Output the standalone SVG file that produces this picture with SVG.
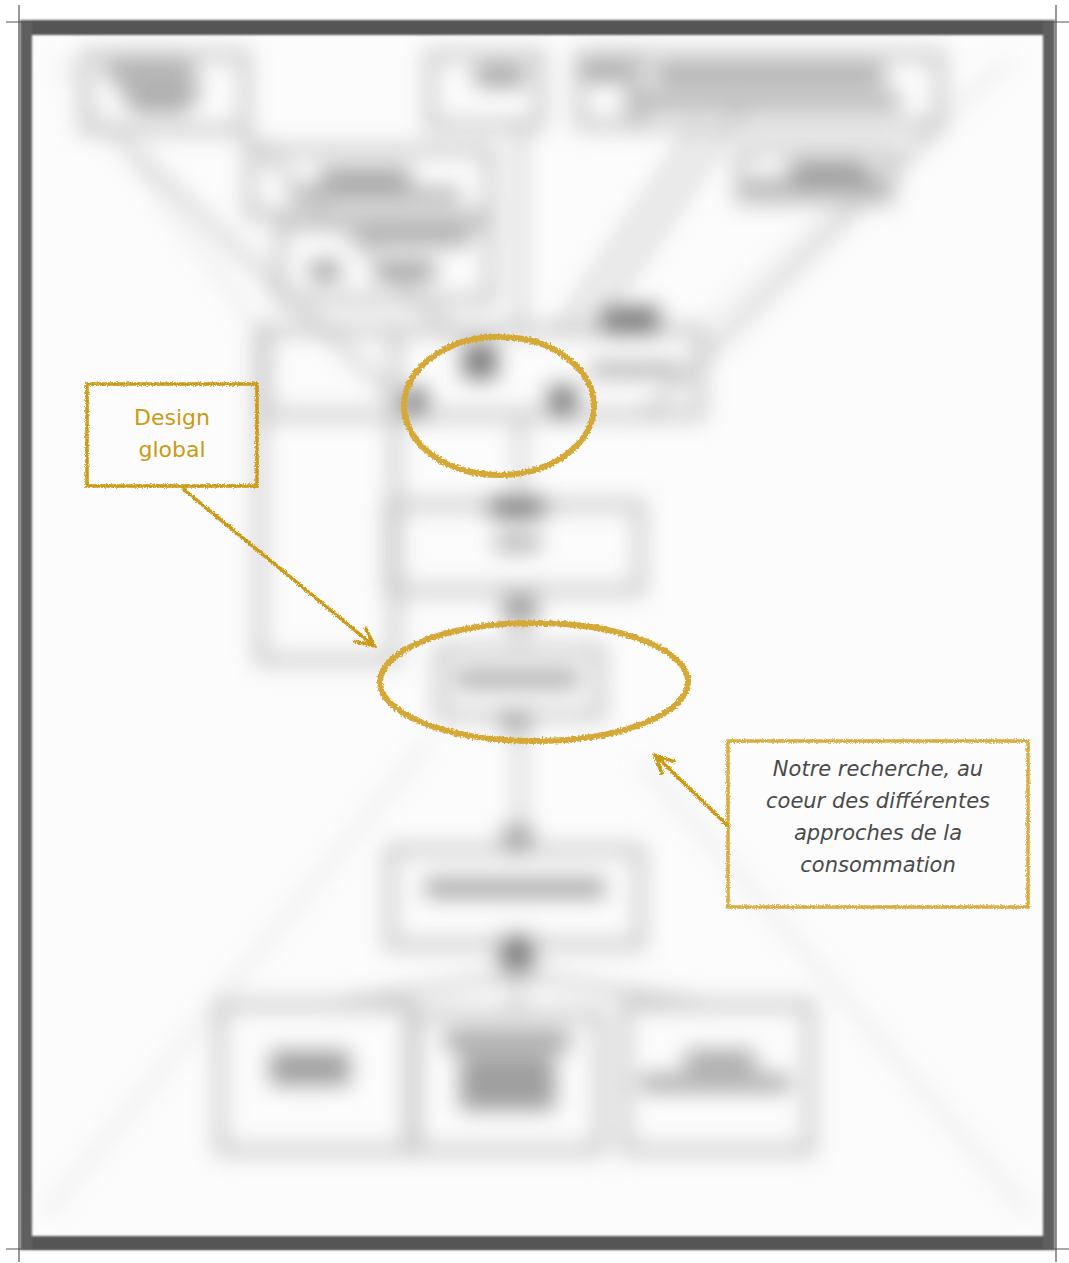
<svg xmlns="http://www.w3.org/2000/svg" width="1069" height="1263" viewBox="0 0 1069 1263">
<defs>
<filter id="blur" x="-20%" y="-20%" width="140%" height="140%"><feGaussianBlur stdDeviation="11"/></filter>
<filter id="soft" x="-5%" y="-5%" width="110%" height="110%"><feGaussianBlur stdDeviation="1"/></filter>
<filter id="rough" x="-10%" y="-10%" width="120%" height="120%">
<feTurbulence type="fractalNoise" baseFrequency="0.9" numOctaves="2" seed="3" result="n"/>
<feDisplacementMap in="SourceGraphic" in2="n" scale="4" xChannelSelector="R" yChannelSelector="G"/>
</filter>
<filter id="rough2" x="-10%" y="-10%" width="120%" height="120%">
<feTurbulence type="fractalNoise" baseFrequency="0.5" numOctaves="2" seed="7" result="n"/>
<feDisplacementMap in="SourceGraphic" in2="n" scale="5" xChannelSelector="R" yChannelSelector="G"/>
</filter>
<marker id="openhead" viewBox="0 0 24 24" refX="21" refY="12" markerWidth="24" markerHeight="24" markerUnits="userSpaceOnUse" orient="auto">
<path d="M2,3 L21,12 L2,21" fill="none" stroke="#c99a12" stroke-width="3.5"/>
</marker>
<style>
.bg{fill:none;stroke:#a8a8a8;stroke-width:10}
.bl{fill:#777777}
.bd{fill:#444444}
.ln{stroke:#b4b4b4;stroke-width:9;fill:none}
.lf{stroke:#d0d0d0;stroke-width:5;fill:none}
.gold{fill:none;stroke:#c99a12;stroke-width:3.5}
.gold2{fill:none;stroke:#d8ad40;stroke-width:3.5}
.ell{fill:none;stroke:#d4a937;stroke-width:6}
.t1{font-family:"DejaVu Sans","Verdana",sans-serif;font-size:22px;fill:#c99a12;text-anchor:middle}
.t2{font-family:"DejaVu Sans","Verdana",sans-serif;font-size:21px;font-style:italic;fill:#4a4a4a;text-anchor:middle}
</style>
</defs>
<rect width="1069" height="1263" fill="#ffffff"/>
<rect x="30" y="33" width="1015" height="1206" fill="#fcfcfc"/>

<!-- blurred background diagram -->
<g id="background" filter="url(#blur)" opacity="0.7">
<g id="connectors">
<line class="ln" x1="110" y1="130" x2="420" y2="420"/>
<line class="ln" x1="240" y1="130" x2="460" y2="340"/>
<line class="ln" x1="940" y1="125" x2="640" y2="420"/>
<line class="ln" x1="740" y1="110" x2="590" y2="330"/>
<line class="ln" x1="700" y1="125" x2="560" y2="330"/>
<line class="ln" x1="520" y1="125" x2="520" y2="330"/>
<line class="ln" x1="520" y1="415" x2="520" y2="505"/>
<line class="ln" x1="520" y1="590" x2="520" y2="650"/>
<line class="ln" x1="520" y1="715" x2="520" y2="850"/>
<line class="ln" x1="517" y1="945" x2="517" y2="1010"/>
<line class="ln" x1="517" y1="975" x2="330" y2="1005"/>
<line class="ln" x1="517" y1="975" x2="710" y2="1005"/>
<line class="lf" x1="45" y1="1215" x2="430" y2="740"/>
<line class="lf" x1="1030" y1="1215" x2="640" y2="760"/>
<line class="lf" x1="60" y1="60" x2="260" y2="330"/>
<line class="lf" x1="1010" y1="60" x2="700" y2="330"/>
</g>
<g id="n1"><rect class="bg" x="85" y="55" width="160" height="75"/><rect class="bl" x="105" y="63" width="90" height="16"/><rect class="bl" x="120" y="84" width="80" height="14"/><rect class="bl" x="130" y="100" width="60" height="12"/></g>
<g id="n2"><rect class="bg" x="430" y="55" width="110" height="70"/><rect class="bl" x="475" y="66" width="50" height="20"/></g>
<g id="n3"><rect class="bg" x="580" y="55" width="50" height="70"/><rect class="bl" x="585" y="63" width="40" height="18"/></g>
<g id="n4"><rect class="bg" x="640" y="55" width="300" height="70"/><rect class="bl" x="655" y="66" width="230" height="18"/><rect class="bl" x="640" y="94" width="260" height="14"/></g>
<g id="n5"><rect class="bg" x="250" y="150" width="240" height="65"/><rect class="bl" x="320" y="168" width="90" height="18"/><rect class="bl" x="290" y="189" width="170" height="12"/></g>
<g id="n6"><rect class="bg" x="280" y="225" width="210" height="75"/><rect class="bl" x="360" y="231" width="110" height="14"/><rect class="bl" x="310" y="261" width="30" height="20"/><rect class="bl" x="375" y="261" width="60" height="20"/></g>
<g id="n7"><rect class="bg" x="740" y="150" width="150" height="50"/><rect class="bl" x="790" y="161" width="80" height="20"/><rect class="bl" x="745" y="180" width="140" height="12"/></g>
<g id="n8"><rect class="bg" x="265" y="330" width="435" height="85"/><rect class="bd" x="463" y="343" width="34" height="36"/><rect class="bd" x="403" y="388" width="24" height="28"/><rect class="bd" x="548" y="386" width="29" height="30"/><rect class="bd" x="600" y="306" width="60" height="28"/><rect class="bl" x="590" y="364" width="90" height="12"/></g>
<g id="n9"><rect class="bg" x="260" y="330" width="135" height="330"/></g>
<g id="n10"><rect class="bg" x="390" y="505" width="250" height="85"/><ellipse class="bd" cx="517" cy="507" rx="34" ry="12"/><rect class="bl" x="495" y="536" width="45" height="14"/><rect class="bl" x="503" y="596" width="34" height="26"/></g>
<g id="n11"><rect class="bg" x="440" y="650" width="160" height="65"/><rect class="bl" x="455" y="671" width="125" height="16"/><rect class="bl" x="500" y="711" width="30" height="19"/></g>
<g id="n12"><rect class="bg" x="390" y="850" width="250" height="95"/><rect class="bl" x="425" y="879" width="180" height="18"/><rect class="bl" x="503" y="826" width="29" height="24"/><rect class="bd" x="500" y="936" width="34" height="36"/></g>
<g id="n13"><rect class="bg" x="220" y="1005" width="190" height="145"/><rect class="bl" x="270" y="1051" width="80" height="34"/></g>
<g id="n14"><rect class="bg" x="415" y="1015" width="185" height="135"/><rect class="bl" x="445" y="1031" width="125" height="19"/><rect class="bl" x="460" y="1055" width="95" height="55"/></g>
<g id="n15"><rect class="bg" x="625" y="1005" width="185" height="145"/><rect class="bl" x="685" y="1051" width="70" height="19"/><rect class="bl" x="640" y="1075" width="150" height="16"/></g>
</g>

<!-- frame -->
<g id="frame" filter="url(#soft)">
<rect x="20" y="20" width="1035" height="15" fill="#555555"/>
<rect x="20" y="1236" width="1035" height="14" fill="#555555"/>
<rect x="20" y="20" width="12" height="1230" fill="#5f5f5f"/>
<rect x="1043" y="20" width="12" height="1230" fill="#5f5f5f"/>
</g>
<g id="ticks" stroke="#555" stroke-width="1.2">
<line x1="19" y1="5" x2="19" y2="1262"/>
<line x1="1056" y1="5" x2="1056" y2="1262"/>
<line x1="6" y1="22" x2="1069" y2="22"/>
<line x1="6" y1="1249" x2="1069" y2="1249"/>
</g>

<!-- annotations -->
<g id="annotations">
<g id="ellipse-top" filter="url(#rough2)"><ellipse class="ell" cx="499" cy="406" rx="95" ry="69"/></g>
<g id="ellipse-mid" filter="url(#rough2)"><ellipse class="ell" cx="534" cy="682" rx="154" ry="59" stroke-width="7"/></g>
<g filter="url(#rough)">
<g id="design-global"><rect class="gold" x="87" y="384" width="170" height="102"/></g>
<g id="notre-recherche"><rect class="gold2" x="728" y="741" width="300" height="166"/></g>
<g id="arrows">
<line class="gold" x1="182" y1="488" x2="374" y2="646" marker-end="url(#openhead)"/>
<line class="gold" x1="728" y1="826" x2="655" y2="755" marker-end="url(#openhead)"/>
</g>
</g>
</g>
<text class="t1" x="172" y="425">Design</text>
<text class="t1" x="172" y="457">global</text>
<text class="t2" x="878" y="776">Notre recherche, au</text>
<text class="t2" x="878" y="808">coeur des différentes</text>
<text class="t2" x="878" y="840">approches de la</text>
<text class="t2" x="878" y="872">consommation</text>
</svg>
